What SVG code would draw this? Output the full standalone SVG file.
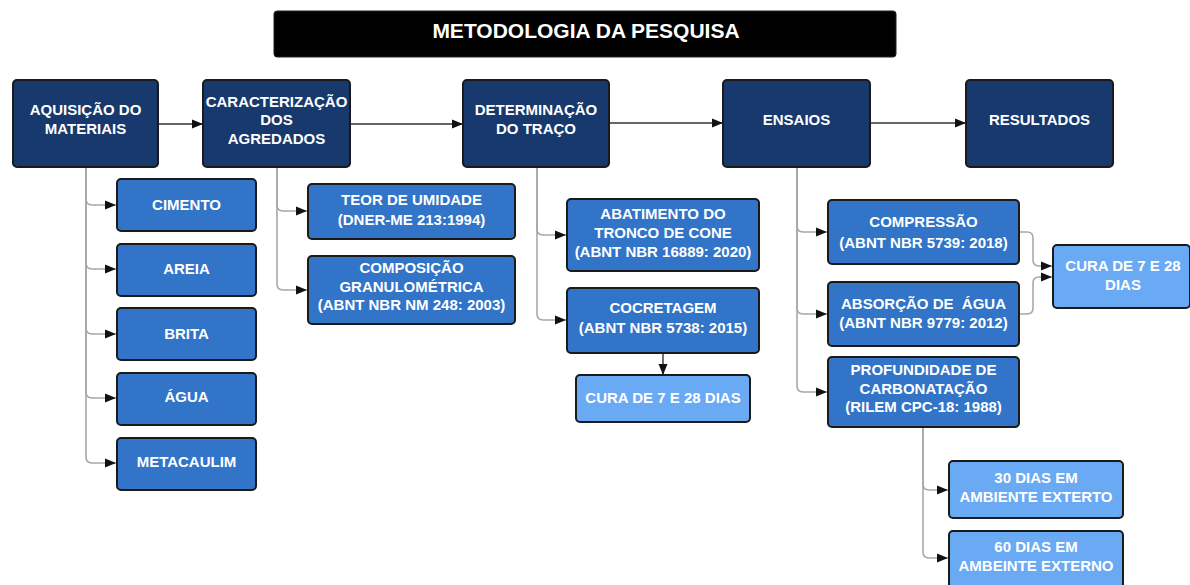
<svg xmlns="http://www.w3.org/2000/svg" width="1190" height="585" viewBox="0 0 1190 585">
<defs>
<style>
.t{font-family:"Liberation Sans",Arial,sans-serif;font-weight:bold;font-size:15px;fill:#ffffff;text-anchor:middle}
.title{font-family:"Liberation Sans",Arial,sans-serif;font-weight:bold;font-size:21px;fill:#ffffff;text-anchor:middle}
.nv{fill:#17396d;stroke:#1a1a1a;stroke-width:2}
.md{fill:#3174c8;stroke:#1a1a1a;stroke-width:2}
.lt{fill:#6aaaf5;stroke:#1a1a1a;stroke-width:2}
.c{fill:none;stroke:#a8a8a8;stroke-width:1.6}
.k{fill:none;stroke:#333333;stroke-width:1.4}
</style>
<marker id="ah" markerUnits="userSpaceOnUse" markerWidth="12" markerHeight="10" refX="11" refY="5" orient="auto">
<path d="M0,0.5 L11,5 L0,9.5 z" fill="#111111"/>
</marker>
</defs>
<rect width="1190" height="585" fill="#ffffff"/>
<g id="connectors">
<path class="k" d="M158 124 H203" marker-end="url(#ah)"/>
<path class="k" d="M350 124 H463" marker-end="url(#ah)"/>
<path class="k" d="M609 123 H723" marker-end="url(#ah)"/>
<path class="k" d="M870 123 H966" marker-end="url(#ah)"/>
<path class="c" d="M86 168 V199 Q86 205 92 205 H116" marker-end="url(#ah)"/>
<path class="c" d="M86 168 V263 Q86 269 92 269 H116" marker-end="url(#ah)"/>
<path class="c" d="M86 168 V328 Q86 334 92 334 H116" marker-end="url(#ah)"/>
<path class="c" d="M86 168 V392 Q86 398 92 398 H116" marker-end="url(#ah)"/>
<path class="c" d="M86 168 V457 Q86 463 92 463 H116" marker-end="url(#ah)"/>
<path class="c" d="M277 168 V205 Q277 211 283 211 H307" marker-end="url(#ah)"/>
<path class="c" d="M277 168 V284 Q277 290 283 290 H307" marker-end="url(#ah)"/>
<path class="c" d="M537 168 V229 Q537 235 543 235 H566" marker-end="url(#ah)"/>
<path class="c" d="M537 168 V314 Q537 320 543 320 H566" marker-end="url(#ah)"/>
<path class="k" d="M663 354 V375" marker-end="url(#ah)"/>
<path class="c" d="M797 168 V226 Q797 232 803 232 H827" marker-end="url(#ah)"/>
<path class="c" d="M797 168 V308 Q797 314 803 314 H827" marker-end="url(#ah)"/>
<path class="c" d="M797 168 V386 Q797 392 803 392 H827" marker-end="url(#ah)"/>
<path class="c" d="M1020 232 H1027 Q1033 232 1033 238 V260 Q1033 266 1039 266 H1052" marker-end="url(#ah)"/>
<path class="c" d="M1020 314 H1027 Q1033 314 1033 308 V283 Q1033 277 1039 277 H1052" marker-end="url(#ah)"/>
<path class="c" d="M923 428 V484 Q923 490 929 490 H948" marker-end="url(#ah)"/>
<path class="c" d="M923 428 V552 Q923 558 929 558 H948" marker-end="url(#ah)"/>
</g>
<g id="title">
<rect x="274" y="11" width="622" height="46" rx="3" fill="#000000" stroke="#222" stroke-width="1"/>
<text class="title" x="586" y="38">METODOLOGIA DA PESQUISA</text>
</g>
<g id="aquisicao">
<rect class="nv" x="13" y="80" width="145" height="87" rx="4"/>
<text class="t" x="85.5" y="115">AQUISIÇÃO DO</text>
<text class="t" x="85.5" y="134">MATERIAIS</text>
</g>
<g id="caracterizacao">
<rect class="nv" x="203" y="80" width="147" height="87" rx="4"/>
<text class="t" x="276.5" y="107">CARACTERIZAÇÃO</text>
<text class="t" x="276.5" y="125">DOS</text>
<text class="t" x="276.5" y="144">AGREDADOS</text>
</g>
<g id="determinacao">
<rect class="nv" x="463" y="80" width="146" height="87" rx="4"/>
<text class="t" x="536" y="115">DETERMINAÇÃO</text>
<text class="t" x="536" y="134">DO TRAÇO</text>
</g>
<g id="ensaios">
<rect class="nv" x="723" y="80" width="147" height="87" rx="4"/>
<text class="t" x="796.5" y="125">ENSAIOS</text>
</g>
<g id="resultados">
<rect class="nv" x="966" y="80" width="147" height="87" rx="4"/>
<text class="t" x="1039.5" y="125">RESULTADOS</text>
</g>
<g id="cimento">
<rect class="md" x="117" y="179" width="139" height="52" rx="4"/>
<text class="t" x="186.5" y="210">CIMENTO</text>
</g>
<g id="areia">
<rect class="md" x="117" y="244" width="139" height="52" rx="4"/>
<text class="t" x="186.5" y="274">AREIA</text>
</g>
<g id="brita">
<rect class="md" x="117" y="308" width="139" height="52" rx="4"/>
<text class="t" x="186.5" y="339">BRITA</text>
</g>
<g id="agua">
<rect class="md" x="117" y="373" width="139" height="52" rx="4"/>
<text class="t" x="186.5" y="402">ÁGUA</text>
</g>
<g id="metacaulim">
<rect class="md" x="117" y="438" width="139" height="52" rx="4"/>
<text class="t" x="186.5" y="467">METACAULIM</text>
</g>
<g id="teor">
<rect class="md" x="308" y="184" width="207" height="55" rx="4"/>
<text class="t" x="411.5" y="205">TEOR DE UMIDADE</text>
<text class="t" x="411.5" y="225">(DNER-ME 213:1994)</text>
</g>
<g id="composicao">
<rect class="md" x="308" y="256" width="207" height="68" rx="4"/>
<text class="t" x="411.5" y="273">COMPOSIÇÃO</text>
<text class="t" x="411.5" y="292">GRANULOMÉTRICA</text>
<text class="t" x="411.5" y="310">(ABNT NBR NM 248: 2003)</text>
</g>
<g id="abatimento">
<rect class="md" x="567" y="199" width="192" height="72" rx="4"/>
<text class="t" x="663" y="219">ABATIMENTO DO</text>
<text class="t" x="663" y="238">TRONCO DE CONE</text>
<text class="t" x="663" y="257">(ABNT NBR 16889: 2020)</text>
</g>
<g id="cocretagem">
<rect class="md" x="567" y="288" width="192" height="65" rx="4"/>
<text class="t" x="663" y="313">COCRETAGEM</text>
<text class="t" x="663" y="333">(ABNT NBR 5738: 2015)</text>
</g>
<g id="cura1">
<rect class="lt" x="576" y="375" width="174" height="47" rx="4"/>
<text class="t" x="663" y="403">CURA DE 7 E 28 DIAS</text>
</g>
<g id="compressao">
<rect class="md" x="828" y="200" width="191" height="64" rx="4"/>
<text class="t" x="923.5" y="227">COMPRESSÃO</text>
<text class="t" x="923.5" y="248">(ABNT NBR 5739: 2018)</text>
</g>
<g id="absorcao">
<rect class="md" x="828" y="282" width="191" height="64" rx="4"/>
<text class="t" x="923.5" y="309" xml:space="preserve">ABSORÇÃO DE  ÁGUA</text>
<text class="t" x="923.5" y="328">(ABNT NBR 9779: 2012)</text>
</g>
<g id="profundidade">
<rect class="md" x="828" y="357" width="191" height="70" rx="4"/>
<text class="t" x="923.5" y="375">PROFUNDIDADE DE</text>
<text class="t" x="923.5" y="394">CARBONATAÇÃO</text>
<text class="t" x="923.5" y="412">(RILEM CPC-18: 1988)</text>
</g>
<g id="cura2">
<rect class="lt" x="1053" y="245" width="137" height="63" rx="4"/>
<text class="t" x="1123" y="271">CURA DE 7 E 28</text>
<text class="t" x="1123" y="290">DIAS</text>
</g>
<g id="dias30">
<rect class="lt" x="949" y="461" width="174" height="57" rx="4"/>
<text class="t" x="1036" y="483">30 DIAS EM</text>
<text class="t" x="1036" y="502">AMBIENTE EXTERTO</text>
</g>
<g id="dias60">
<rect class="lt" x="949" y="531" width="174" height="62" rx="4"/>
<text class="t" x="1036" y="552">60 DIAS EM</text>
<text class="t" x="1036" y="571">AMBEINTE EXTERNO</text>
</g>
</svg>
